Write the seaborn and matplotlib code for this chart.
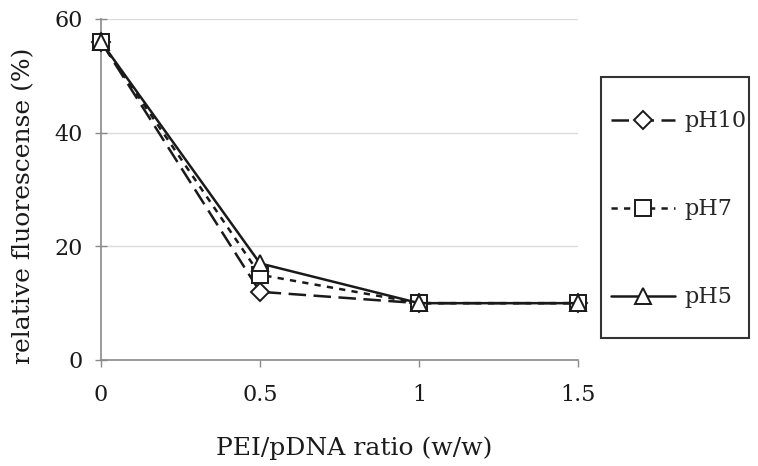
import matplotlib
matplotlib.use("Agg")
import matplotlib.pyplot as plt
from matplotlib.patches import Rectangle
import seaborn as sns
import pandas as pd

ratio = [0, 0.5, 1, 1.5]
ph10 = [56, 12, 10, 10]
ph7 = [56, 15, 10, 10]
ph5 = [56, 17, 10, 10]
labels = ["pH10", "pH7", "pH5"]
x_ticks = [0, 0.5, 1, 1.5]
x_ticklabels = ["0", "0.5", "1", "1.5"]
y_ticks = [0, 20, 40, 60]

sns.set_theme(style="white")
plt.rcParams['font.family'] = ['DejaVu Serif', 'Liberation Serif']

W, H = 758, 466
fig = plt.figure(figsize=(W / 100, H / 100), dpi=100)
ax = fig.add_axes([101 / W, 1 - 360 / H, (578 - 101) / W, (360 - 19) / H])

series = [ph10, ph7, ph5]
markers = ["D", "s", "^"]
msizes = [9, 11, 12]
dashes = [(7, 3), (2.5, 2.5), ()]

handles = []
for vals, lab, mk, ms, ds in zip(series, labels, markers, msizes, dashes):
    df = pd.DataFrame({"x": ratio, "y": vals})
    sns.lineplot(data=df, x="x", y="y", ax=ax, color="#1a1a1a", linewidth=1.8,
                 marker=mk, markersize=ms, markerfacecolor="white",
                 markeredgecolor="#1a1a1a", markeredgewidth=1.4,
                 dashes=False, clip_on=False, zorder=3)
    ln = ax.lines[-1]
    if ds:
        ln.set_dashes(ds)
    handles.append(ln)

ax.set_xlim(0, 1.5)
ax.set_ylim(0, 60)
ax.set_xticks(x_ticks)
ax.set_xticklabels(x_ticklabels)
ax.set_yticks(y_ticks)
ax.grid(axis="y", color="#dcdcdc", linewidth=1)
ax.grid(axis="x", visible=False)
for s in ["top", "right"]:
    ax.spines[s].set_visible(False)
for s in ["left", "bottom"]:
    ax.spines[s].set_color("#8a8a8a")
    ax.spines[s].set_linewidth(1.2)
ax.tick_params(axis="both", labelsize=16, colors="#8a8a8a", labelcolor="#1a1a1a",
               width=1, bottom=True, left=True)
ax.tick_params(axis="x", direction="out", length=5, pad=12)
ax.tick_params(axis="y", direction="inout", length=8, pad=9)
ax.set_xlabel("PEI/pDNA ratio (w/w)", fontsize=18, color="#1a1a1a", labelpad=22)
ax.set_ylabel("relative fluorescense (%)", fontsize=18, color="#1a1a1a", labelpad=14)
ax.xaxis.label.set_x(0.53)
ax.yaxis.label.set_y(0.452)

# legend frame
x0, x1, y0, y1 = 601, 749, 77, 338
fig.patches.append(Rectangle((x0 / W, 1 - y1 / H), (x1 - x0) / W, (y1 - y0) / H,
                             transform=fig.transFigure, fill=False,
                             edgecolor="#333333", linewidth=1.5))
leg = fig.legend(handles, labels, loc="center left",
                 bbox_to_anchor=(611 / W, 1 - 209.5 / H),
                 fontsize=16, frameon=False,
                 labelspacing=2.97, handlelength=2.9, handletextpad=0.4,
                 borderpad=0, borderaxespad=0)

fig.savefig("out.png", dpi=100)
